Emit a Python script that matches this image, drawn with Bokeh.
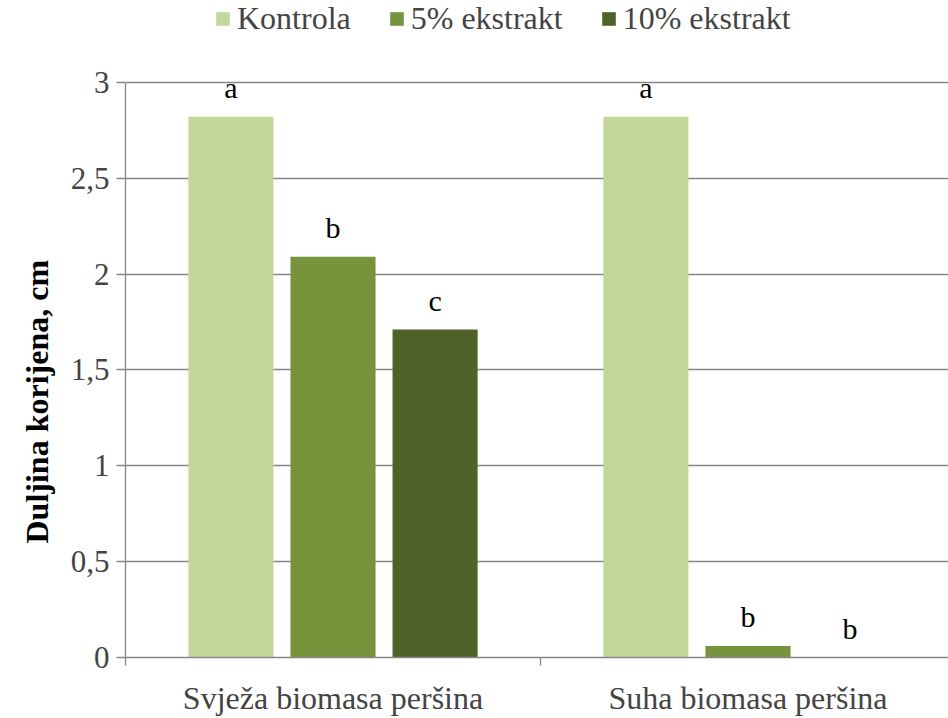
from bokeh.plotting import figure
from bokeh.models import (ColumnDataSource, Range1d, FixedTicker, Legend, LegendItem, Title)
from bokeh.core.properties import value
from bokeh.embed import file_html
from bokeh.resources import INLINE

categories = ["Svježa biomasa peršina", "Suha biomasa peršina"]
series = ["Kontrola", "5% ekstrakt", "10% ekstrakt"]
kontrola = [2.82, 2.82]
ekstrakt5 = [2.09, 0.06]
ekstrakt10 = [1.71, 0.0]
letters_kontrola = ["a", "a"]
letters_5 = ["b", "b"]
letters_10 = ["c", "b"]
y_ticks = [0, 0.5, 1, 1.5, 2, 2.5, 3]
y_tick_labels = ["0", "0,5", "1", "1,5", "2", "2,5", "3"]
y_title = "Duljina korijena, cm"

colors = ["#C4D79B", "#77933C", "#4F6228"]
FONT = "'Liberation Serif', 'Times New Roman', serif"
GRAY = "#868686"

# frame spans figure y 0..659; value 3 sits at y=82
Y_END = 3 * 659 / (659 - 82)

p = figure(width=948, height=718, output_backend="svg", toolbar_location=None,
           x_range=Range1d(0, 823 / 415), y_range=Range1d(0, Y_END),
           min_border_left=125, min_border_right=0, min_border_top=0,
           min_border_bottom=59)
p.outline_line_color = None
p.xgrid.grid_line_color = None
p.ygrid.grid_line_color = GRAY
p.ygrid.grid_line_width = 1.3
p.ygrid.ticker = FixedTicker(ticks=y_ticks)

offset = 0.246
bw = 0.205
renderers = []
for j, (vals, lets) in enumerate([(kontrola, letters_kontrola),
                                  (ekstrakt5, letters_5),
                                  (ekstrakt10, letters_10)]):
    xs = [i + 0.5 + (j - 1) * offset for i in range(len(categories))]
    src = ColumnDataSource(dict(x=xs, top=vals, lab=lets))
    r = p.vbar(x="x", top="top", width=bw, source=src, fill_color=colors[j],
               line_color=None)
    renderers.append(r)
    p.text(x="x", y="top", text="lab", source=src, text_align="center",
           text_baseline="bottom", y_offset=-13,
           text_font=value(FONT), text_font_size="30px", text_color="#000000")

# Axes
yax = p.yaxis[0]
yax.bounds = (0, 3)
yax.ticker = FixedTicker(ticks=y_ticks)
yax.major_label_overrides = {t: l for t, l in zip(y_ticks, y_tick_labels)}
yax.major_label_text_font = FONT
yax.major_label_text_font_size = "31px"
yax.major_label_standoff = 7
yax.major_tick_out = 9
yax.major_tick_in = 0
yax.minor_tick_line_color = None
yax.axis_line_color = GRAY
yax.axis_line_width = 1.3
yax.major_tick_line_color = GRAY
yax.major_tick_line_width = 1.3

ytitle = Title(text=y_title, align="left", offset=114, standoff=25,
               text_font=FONT, text_font_style="bold", text_font_size="32px",
               text_color="#000000")
p.add_layout(ytitle, "left")

xax = p.xaxis[0]
xax.ticker = FixedTicker(ticks=[0.5, 1.5], minor_ticks=[0, 1, 2])
xax.major_label_overrides = {0.5: categories[0], 1.5: categories[1]}
xax.major_label_text_font = FONT
xax.major_label_text_font_size = "32px"
xax.major_tick_line_color = None
xax.major_tick_out = 0
xax.major_tick_in = 0
xax.major_label_standoff = 14
xax.minor_tick_out = 8
xax.minor_tick_in = 0
xax.minor_tick_line_color = GRAY
xax.minor_tick_line_width = 1.3
xax.axis_line_color = GRAY
xax.axis_line_width = 1.3

legend = Legend(items=[LegendItem(label=s, renderers=[r]) for s, r in zip(series, renderers)],
                orientation="horizontal", location=(89, 620),
                glyph_width=17, glyph_height=17, label_standoff=6, spacing=37,
                padding=0, margin=0, border_line_color=None,
                background_fill_alpha=0,
                label_text_font=FONT, label_text_font_size="32px",
                label_height=17)
p.add_layout(legend, "center")

open("out.html", "w").write(file_html(p, INLINE))
